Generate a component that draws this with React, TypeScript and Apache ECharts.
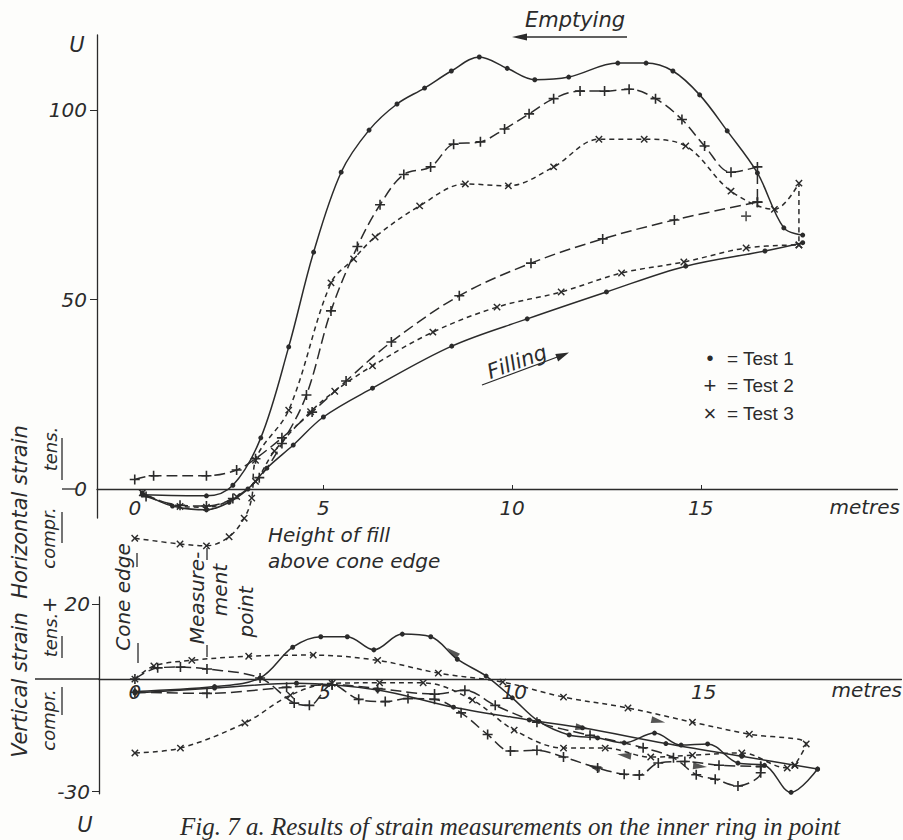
import React, { useEffect, useRef } from "react";
import * as echarts from "echarts";

// ---------- data (height of fill in metres, strain in U) ----------
// Upper diagram: horizontal strain
const hT1Emptying = [[0.2,-1.5],[1.9,-1.8],[2.6,1],[3.34,13.5],[4.08,37.5],[4.74,62.5],[5.47,83.6],[6.21,94.7],[6.95,101.6],[7.68,105.8],[8.39,110.3],[9.13,114],[9.87,111],[10.6,108],[11.5,108.7],[12.8,112.4],[13.55,112.4],[14.26,110.3],[14.97,104],[15.7,94.5],[16.5,83.4],[17.2,68.9],[17.7,67]];
const hT1Filling = [[0.2,-1],[1.0,-4.5],[1.9,-5.5],[2.5,-3.5],[3.0,0],[3.5,5.5],[4.2,11.6],[5.0,19],[6.3,26.6],[8.4,37.7],[10.4,44.9],[12.5,52],[14.6,58.8],[16.7,62.8],[17.7,65]];
const hT2Emptying = [[0.3,-2],[1.2,-4.3],[1.9,-4.5],[2.6,-2.5],[3.3,3],[3.9,12],[4.55,24.8],[5.2,47],[5.9,64],[6.5,75],[7.13,83],[7.84,85],[8.45,91],[9.16,91.6],[9.8,95],[10.45,99],[11.1,103],[11.8,105],[12.45,105],[13.1,105.5],[13.8,103],[14.5,97.5],[15.1,90.5],[15.8,83.6],[16.5,85],[16.5,75.7]];
const hT2Filling = [[0,2.5],[0.5,3.5],[1.9,3.5],[2.7,5],[3.2,8],[3.9,13.5],[4.7,20.3],[5.6,28.5],[6.8,38.8],[8.6,51],[10.5,59.6],[12.4,66],[14.3,71],[16.5,75.7]];
const hT2Single = [[16.2,72]];
const hT3Emptying = [[0,-13],[1.2,-14.5],[1.9,-15],[2.5,-12.6],[2.9,-7.7],[3.1,-2.4],[3.2,7.6],[4.08,20.8],[5.2,54.4],[5.8,60.7],[6.37,66.5],[7.55,74.7],[8.76,80.5],[9.9,80],[11.1,85],[12.3,92.3],[13.5,92.3],[14.6,90.5],[15.8,78.6],[16.95,73.8],[17.6,80.7],[17.6,64.4]];
const hT3Filling = [[0.2,-1],[1.2,-4.6],[1.9,-4.8],[2.7,-2],[3.2,2],[3.7,10],[4.66,20.4],[5.3,25.8],[6.3,32.5],[7.9,41.4],[9.6,48],[11.3,52],[12.9,57],[14.55,59.9],[16.2,63.6],[17.6,64.4]];

// Lower diagram: vertical strain
const vT1Filling = [[0,-3.7],[2.1,-2.4],[4.26,-1.1],[6.4,-2.9],[8.4,-7.5],[10.4,-10.9],[11.8,-13],[14,-17.2],[16,-20.6],[18,-24]];
const vT1Emptying = [[0,-3.3],[2.1,-2],[3.3,0.3],[4.16,8.5],[4.9,11.3],[5.6,11.3],[6.3,7.8],[7.05,12],[7.8,11.3],[8.5,5.3],[9.26,0.8],[9.95,-5],[10.65,-11.3],[11.45,-14.9],[12.2,-15.7],[12.9,-17],[13.7,-14.4],[14.4,-17.6],[15.1,-17.3],[15.9,-22.4],[16.6,-23],[17.3,-30.2],[18,-24]];
const vT2a = [[0,0],[0.6,3],[1.2,3.2],[1.9,2.7],[3.3,0.3],[4.2,-6.4],[4.6,-7],[5.2,-1.5],[5.9,-5.4],[6.6,-6],[7.2,-5.2],[7.9,-5.4],[8.6,-9],[9.3,-14.8],[9.9,-19.2],[10.6,-19],[11.3,-20.8],[12.2,-23.7],[12.9,-25.4],[13.3,-25.6],[13.8,-22.4],[14.5,-22],[15.4,-23],[16.5,-23.3]];
const vT2b = [[0,-3.5],[1.9,-3.8],[4,-2.2],[5.2,-1.5],[6.4,-2.5],[7.9,-4],[8.7,-3],[9.5,-7],[10.6,-11.5],[12,-15],[13.4,-18.3],[14.2,-21],[14.8,-25.5],[15.3,-26.7],[15.9,-28.5],[16.5,-25],[16.5,-23.3]];
const vT3Upper = [[0,0],[0.5,3.5],[1.5,5],[3.0,6.1],[4.7,6.4],[6.4,5],[8.0,1.6],[9.7,-0.8],[11.3,-4.8],[13,-7.7],[14.7,-11.5],[16.2,-14.7],[17.7,-17.3],[17.4,-23]];
const vT3Lower = [[0,-19.7],[1.2,-18.4],[2.9,-11.7],[4.1,-4.3],[5.2,-1.1],[6.45,-1],[7.6,-1],[8.9,-5.6],[10,-13.6],[11.3,-18.4],[12.4,-18.4],[13.6,-20.8],[14.7,-20.3],[16,-19.7],[17.2,-23.7],[17.4,-23]];
// direction arrows on the lower curves: [x, strain, direction in degrees]
const vArrows = [[8.37,7.2,141],[11.8,-13,-10],[13.8,-11.2,-12],[14.9,-23.3,-5],[12.9,-20.3,172],[12.1,-23.5,160]];

const xTicks = [0, 5, 10, 15];
const hTicks = [0, 50, 100];
const vTicks = [20, -30];
const legendNames = ["Test 1", "Test 2", "Test 3"];
const legendMarks = ["\u2022", "+", "\u00d7"];

// ---------- styling ----------
const INK = "#2b2b2b";
const PLUS = "path://M4.2,0H5.8V4.2H10V5.8H5.8V10H4.2V5.8H0V4.2H4.2Z";
const SANS = "DejaVu Sans";
const styles: Record<string, any> = {
  "Test 1": { symbol: "circle", symbolSize: 5, rot: 0, type: "solid" },
  "Test 2": { symbol: PLUS, symbolSize: 10, rot: 0, type: [11, 5] },
  "Test 3": { symbol: PLUS, symbolSize: 9, rot: 45, type: [5, 4] },
};

function curve(name: string, data: number[][], idx: number) {
  const s = styles[name];
  return {
    type: "line", name, xAxisIndex: idx, yAxisIndex: idx, data,
    smooth: 0.35, symbol: s.symbol, symbolSize: s.symbolSize, symbolRotate: s.rot,
    showSymbol: true, clip: false, z: 3,
    lineStyle: { color: INK, width: 1.5, type: s.type },
    itemStyle: { color: INK },
  };
}

const txt = (text: string, x: number, y: number, o: any = {}) => ({
  type: "text", x, y, rotation: o.rot || 0, z: 10,
  style: {
    text, fill: INK, fontFamily: o.family || SANS, fontStyle: o.style || "italic",
    fontSize: o.size || 20, align: o.align || "center", verticalAlign: o.va || "middle",
  },
});
const ln = (x1: number, y1: number, x2: number, y2: number, w = 1.3) => ({
  type: "line", z: 10, shape: { x1, y1, x2, y2 }, style: { stroke: INK, lineWidth: w },
});
const tri = (pts: number[][]) => ({ type: "polygon", z: 10, shape: { points: pts }, style: { fill: INK } });

const R = Math.PI / 2;
const axisFont = { color: INK, fontFamily: SANS, fontStyle: "italic", fontSize: 20 };

// grid geometry
const G0 = { left: 97, top: 35, width: 806, height: 483 };
const Y0 = { min: -7.65, max: 119.8 };
const G1 = { left: 99, top: 597, width: 804, height: 196.8 };
const Y1 = { min: -30.6, max: 21.9 };
// offset of the x axis from the grid bottom so that it sits on strain = 0
const zeroOffset = (g: any, y: any) => -(g.height * (0 - y.min)) / (y.max - y.min);

export default function App() {
  const ref = useRef<HTMLDivElement>(null);
  useEffect(() => {
    if (!ref.current) return;
    const chart = echarts.init(ref.current, null, { renderer: "svg", width: 903, height: 840 });
    const legendGraphics: any[] = [];
    legendNames.forEach((n, i) => {
      const y = 358 + i * 27.5;
      legendGraphics.push(txt(legendMarks[i], 710, y, { style: "normal", family: "Liberation Sans", size: i === 0 ? 20 : 22 }));
      legendGraphics.push(txt("= " + n, 727, y, { style: "normal", family: "Liberation Sans", size: 19, align: "left" }));
    });
    const option: any = {
      animation: false,
      backgroundColor: "#fdfdfb",
      grid: [G0, G1],
      xAxis: [
        {
          type: "value", gridIndex: 0, min: -1, max: 20.21, position: "bottom",
          offset: zeroOffset(G0, Y0),
          axisLine: { onZero: false, lineStyle: { color: INK, width: 1.3 } },
          axisTick: { show: true, inside: true, length: 4, customValues: [5, 10, 15], lineStyle: { color: INK } },
          axisLabel: { ...axisFont, margin: 9, customValues: xTicks },
          splitLine: { show: false },
          name: "metres", nameLocation: "end", nameGap: -68,
          nameTextStyle: { ...axisFont, verticalAlign: "top", padding: [8, 0, 0, 0] },
        },
        {
          type: "value", gridIndex: 1, min: -0.947, max: 20.21, position: "bottom",
          offset: zeroOffset(G1, Y1),
          axisLine: { onZero: false, lineStyle: { color: INK, width: 1.3 } },
          axisTick: { show: false },
          axisLabel: { ...axisFont, margin: 3, customValues: xTicks },
          splitLine: { show: false },
          name: "metres", nameLocation: "end", nameGap: -70,
          nameTextStyle: { ...axisFont, verticalAlign: "top", padding: [1, 0, 0, 0] },
        },
      ],
      yAxis: [
        {
          type: "value", gridIndex: 0, ...Y0,
          axisLine: { show: true, onZero: false, lineStyle: { color: INK, width: 1.3 } },
          axisTick: { show: true, length: 7, customValues: [50, 100], lineStyle: { color: INK } },
          axisLabel: { ...axisFont, margin: 10, customValues: hTicks },
          splitLine: { show: false },
        },
        {
          type: "value", gridIndex: 1, ...Y1,
          axisLine: { show: true, onZero: false, lineStyle: { color: INK, width: 1.3 } },
          axisTick: { show: true, length: 7, customValues: vTicks, lineStyle: { color: INK } },
          axisLabel: { ...axisFont, margin: 9, customValues: vTicks, formatter: (v: number) => (v > 0 ? "+ " + v : String(v)) },
          splitLine: { show: false },
        },
      ],
      series: [
        curve("Test 1", hT1Emptying, 0),
        curve("Test 1", hT1Filling, 0),
        curve("Test 2", hT2Emptying, 0),
        curve("Test 2", hT2Filling, 0),
        curve("Test 3", hT3Emptying, 0),
        curve("Test 3", hT3Filling, 0),
        { type: "scatter", name: "Test 2", data: hT2Single, symbol: PLUS, symbolSize: 10, itemStyle: { color: INK }, xAxisIndex: 0, yAxisIndex: 0 },
        curve("Test 1", vT1Filling, 1),
        curve("Test 1", vT1Emptying, 1),
        curve("Test 2", vT2a, 1),
        curve("Test 2", vT2b, 1),
        curve("Test 3", vT3Upper, 1),
        curve("Test 3", vT3Lower, 1),
        {
          type: "scatter", name: "arrows", data: vArrows, xAxisIndex: 1, yAxisIndex: 1,
          symbol: "triangle", symbolSize: [7, 14], z: 4,
          symbolRotate: (v: number[]) => v[2] - 90,
          itemStyle: { color: INK },
        },
      ],
      graphic: [
        txt("U", 77, 45, { size: 21 }),
        txt("U", 85, 825, { size: 21 }),
        txt("Horizontal strain", 20, 512, { rot: R, size: 21 }),
        txt("tens.", 50, 449, { rot: R, size: 18 }),
        txt("compr.", 48, 538, { rot: R, size: 18 }),
        ln(62, 438, 62, 480), ln(62, 512, 62, 543), ln(62, 489, 76, 489),
        txt("Vertical strain", 20, 685, { rot: R, size: 21 }),
        txt("tens.", 50, 635, { rot: R, size: 18 }),
        txt("compr.", 48, 720, { rot: R, size: 18 }),
        ln(62, 636, 62, 658), ln(62, 687, 62, 715), ln(35, 679, 99, 679),
        txt("Cone edge", 123, 597, { rot: R, size: 20 }),
        ln(137, 553, 137, 567), ln(138, 643, 138, 663),
        txt("Measure-", 197, 598, { rot: R, size: 20 }),
        txt("ment", 220, 590, { rot: R, size: 20 }),
        txt("point", 246, 612, { rot: R, size: 20 }),
        ln(207, 548, 207, 560), ln(207, 645, 207, 657),
        txt("Height of fill", 268, 535, { align: "left" }),
        txt("above cone edge", 268, 561, { align: "left" }),
        txt("Emptying", 575, 20, { size: 21 }),
        ln(522, 37, 627, 37), tri([[512, 37], [527, 33.5], [527, 40.5]]),
        txt("Filling", 517, 362, { rot: 0.35, size: 21 }),
        ln(482, 385, 560, 356), tri([[569, 352.6], [555.3, 354.1], [558.1, 361.6]]),
        ...legendGraphics,
        txt("Fig. 7 a. Results of strain measurements on the inner ring in point", 180, 839,
          { family: "Liberation Serif", size: 25, align: "left", va: "bottom" }),
      ],
    };
    chart.setOption(option);
    return () => chart.dispose();
  }, []);
  return (
    <div
      ref={ref}
      style={{ position: "fixed", left: 0, top: 0, width: 903, height: 840, background: "#fdfdfb" }}
    />
  );
}
